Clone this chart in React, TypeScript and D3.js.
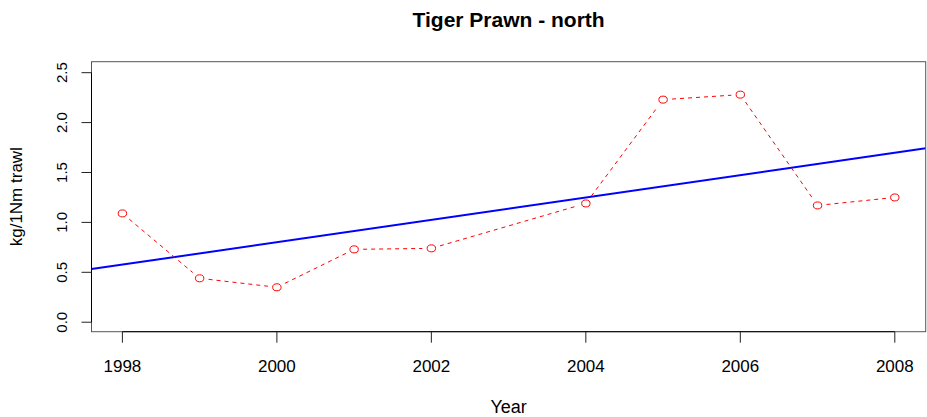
import * as d3 from "d3";
import React from "react";

const years = [1998, 1999, 2000, 2001, 2002, 2004, 2005, 2006, 2007, 2008];
const catchRate = [1.09, 0.44, 0.35, 0.73, 0.74, 1.19, 2.23, 2.28, 1.17, 1.25];
const xTicks = [1998, 2000, 2002, 2004, 2006, 2008];
const yTicks = [0, 0.5, 1, 1.5, 2, 2.5];
// fitted trend: value at 1998 and slope per year
const trendAt1998 = 0.577;
const trendSlope = 0.1121;

const width = 927;
const height = 417;
const box = { left: 91.5, right: 925.7, top: 61.7, bottom: 331.7 };
const font = "'Liberation Sans', Arial, Helvetica, sans-serif";

const App = () => {
  const x = d3.scaleLinear().domain([1997.6, 2008.4]).range([box.left, box.right]);
  const y = d3.scaleLinear().domain([-0.095, 2.61]).range([box.bottom, box.top]);

  const pts = years.map((yr, i) => [x(yr), y(catchRate[i])]);
  const gap = 9;
  const segs = [];
  for (let i = 0; i < pts.length - 1; i++) {
    const [x0, y0] = pts[i];
    const [x1, y1] = pts[i + 1];
    const len = Math.hypot(x1 - x0, y1 - y0);
    if (len <= 2 * gap) continue;
    const ux = (x1 - x0) / len;
    const uy = (y1 - y0) / len;
    segs.push([x0 + ux * gap, y0 + uy * gap, x1 - ux * gap, y1 - uy * gap]);
  }

  const [xa, xb] = x.domain();
  const trend = (yr) => trendAt1998 + trendSlope * (yr - 1998);

  return (
    <svg
      width={width}
      height={height}
      style={{ position: "absolute", left: 0, top: 0, background: "#fff" }}
      fontFamily={font}
    >
      <defs>
        <clipPath id="plot">
          <rect x={box.left} y={box.top} width={box.right - box.left} height={box.bottom - box.top} />
        </clipPath>
      </defs>

      <text x={(box.left + box.right) / 2} y={27.3} textAnchor="middle" fontSize={21} fontWeight="bold">
        Tiger Prawn - north
      </text>

      <g clipPath="url(#plot)">
        <line x1={x(xa)} y1={y(trend(xa))} x2={x(xb)} y2={y(trend(xb))} stroke="#0000ff" strokeWidth={2} />
        {segs.map((s, i) => (
          <line key={i} x1={s[0]} y1={s[1]} x2={s[2]} y2={s[3]} stroke="#ff0000" strokeWidth={1} strokeDasharray="4,4" />
        ))}
        {pts.map((p, i) => (
          <ellipse key={i} cx={p[0]} cy={p[1]} rx={4.2} ry={3.5} fill="none" stroke="#ff0000" strokeWidth={1} />
        ))}
      </g>

      <rect
        x={box.left}
        y={box.top}
        width={box.right - box.left}
        height={box.bottom - box.top}
        fill="none"
        stroke="#555"
        strokeWidth={1}
      />

      {/* x axis */}
      <line x1={x(xTicks[0])} x2={x(xTicks[xTicks.length - 1])} y1={box.bottom} y2={box.bottom} stroke="#000" />
      {xTicks.map((t) => (
        <g key={t}>
          <line x1={x(t)} x2={x(t)} y1={box.bottom} y2={box.bottom + 11} stroke="#222" />
          <text x={x(t)} y={371.7} textAnchor="middle" fontSize={17}>
            {t}
          </text>
        </g>
      ))}

      {/* y axis */}
      <line x1={box.left} x2={box.left} y1={y(yTicks[0])} y2={y(yTicks[yTicks.length - 1])} stroke="#000" />
      {yTicks.map((t) => (
        <g key={t}>
          <line x1={box.left - 10} x2={box.left} y1={y(t)} y2={y(t)} stroke="#222" />
          <text
            transform={`translate(67.3,${y(t)}) rotate(-90)`}
            textAnchor="middle"
            fontSize={15}
          >
            {t.toFixed(1)}
          </text>
        </g>
      ))}

      <text x={(box.left + box.right) / 2} y={413} textAnchor="middle" fontSize={18}>
        Year
      </text>
      <text transform={`translate(22,${(box.top + box.bottom) / 2}) rotate(-90)`} textAnchor="middle" fontSize={17}>
        kg/1Nm trawl
      </text>
    </svg>
  );
};

export default App;
